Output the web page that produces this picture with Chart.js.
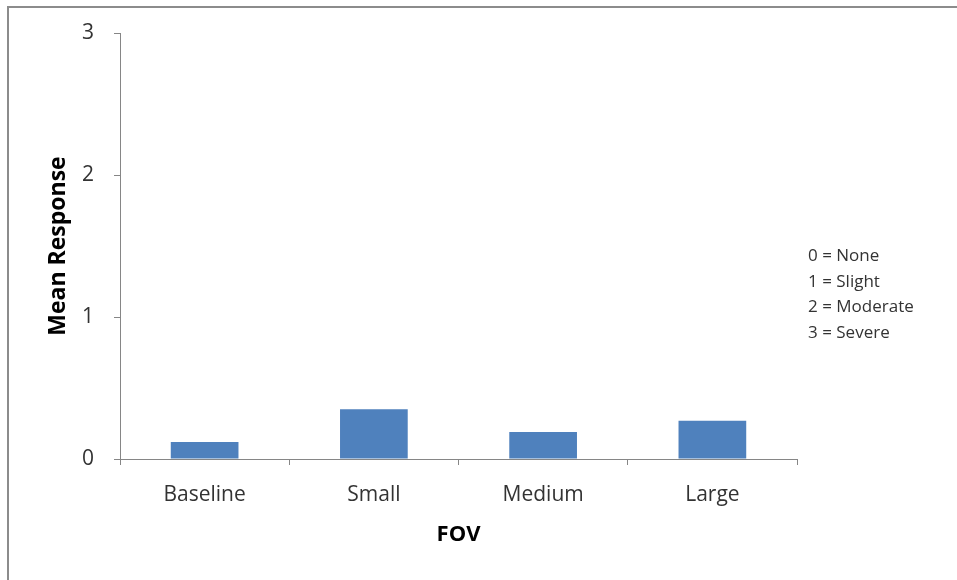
<!DOCTYPE html>
<html>
<head>
<meta charset="utf-8">
<title>Mean Response by FOV</title>
<script src="https://cdn.jsdelivr.net/npm/chart.js@4/dist/chart.umd.min.js"></script>
<style>
  html, body { margin: 0; padding: 0; background: #fff; }
  #wrap { position: relative; width: 957px; height: 580px; overflow: hidden; }
  #frame {
    position: absolute; left: 7px; top: 6px; right: -2px; bottom: -2px;
    border-top: 2px solid #8c8c8c; border-left: 2px solid #8c8c8c;
    pointer-events: none;
  }
  canvas { position: absolute; left: 0; top: 0; }
</style>
</head>
<body>
<div id="wrap">
  <canvas id="fovChart" width="957" height="580"></canvas>
  <div id="frame"></div>
</div>
<script>
const categories = ['Baseline', 'Small', 'Medium', 'Large'];
const meanResponse = [0.12, 0.35, 0.19, 0.27];
const yTicks = [0, 1, 2, 3];
const scaleNotes = ['0 = None', '1 = Slight', '2 = Moderate', '3 = Severe'];

const AXIS_GREY = '#868686';
const TEXT_GREY = '#333333';
const FONT = '"Open Sans", sans-serif';

// key to the response scale, drawn to the right of the plot
const scaleNotesPlugin = {
  id: 'scaleNotes',
  afterDraw(chart) {
    const { ctx, chartArea } = chart;
    ctx.save();
    ctx.font = '17px ' + FONT;
    ctx.fillStyle = TEXT_GREY;
    ctx.textAlign = 'left';
    ctx.textBaseline = 'middle';
    scaleNotes.forEach((line, i) => {
      ctx.fillText(line, chartArea.right + 11, 256 + i * 25.7);
    });
    ctx.restore();
  }
};

new Chart(document.getElementById('fovChart'), {
  type: 'bar',
  data: {
    labels: categories,
    datasets: [{
      label: 'Mean Response',
      data: meanResponse,
      backgroundColor: '#4F81BD',
      borderWidth: 0,
      categoryPercentage: 1,
      barPercentage: 0.4
    }]
  },
  options: {
    responsive: false,
    animation: false,
    layout: { padding: { top: 33, right: 160, left: 0, bottom: 0 } },
    plugins: {
      legend: { display: false },
      tooltip: { enabled: false }
    },
    scales: {
      x: {
        grid: {
          drawOnChartArea: false,
          drawTicks: true,
          tickLength: 6,
          color: AXIS_GREY
        },
        border: { color: AXIS_GREY, width: 1 },
        ticks: {
          color: TEXT_GREY,
          padding: 17,
          font: { family: FONT, size: 21 }
        },
        title: {
          display: true,
          text: 'FOV',
          color: '#000',
          font: { family: FONT, size: 22, weight: 'bold' },
          padding: { top: 0, bottom: 32 }
        },
        afterFit(scale) { scale.height = 121; }
      },
      y: {
        min: 0,
        max: 3,
        afterBuildTicks(scale) {
          scale.ticks = yTicks.map(v => ({ value: v }));
        },
        grid: {
          drawOnChartArea: false,
          drawTicks: true,
          tickLength: 6,
          color: AXIS_GREY
        },
        border: { color: AXIS_GREY, width: 1 },
        ticks: {
          color: TEXT_GREY,
          padding: 20,
          font: { family: FONT, size: 21 }
        },
        title: {
          display: true,
          text: 'Mean Response',
          color: '#000',
          font: { family: FONT, size: 23, weight: 'bold' },
          padding: { top: 45, bottom: 0 }
        },
        afterFit(scale) { scale.width = 120; }
      }
    }
  },
  plugins: [scaleNotesPlugin]
});
</script>
</body>
</html>
